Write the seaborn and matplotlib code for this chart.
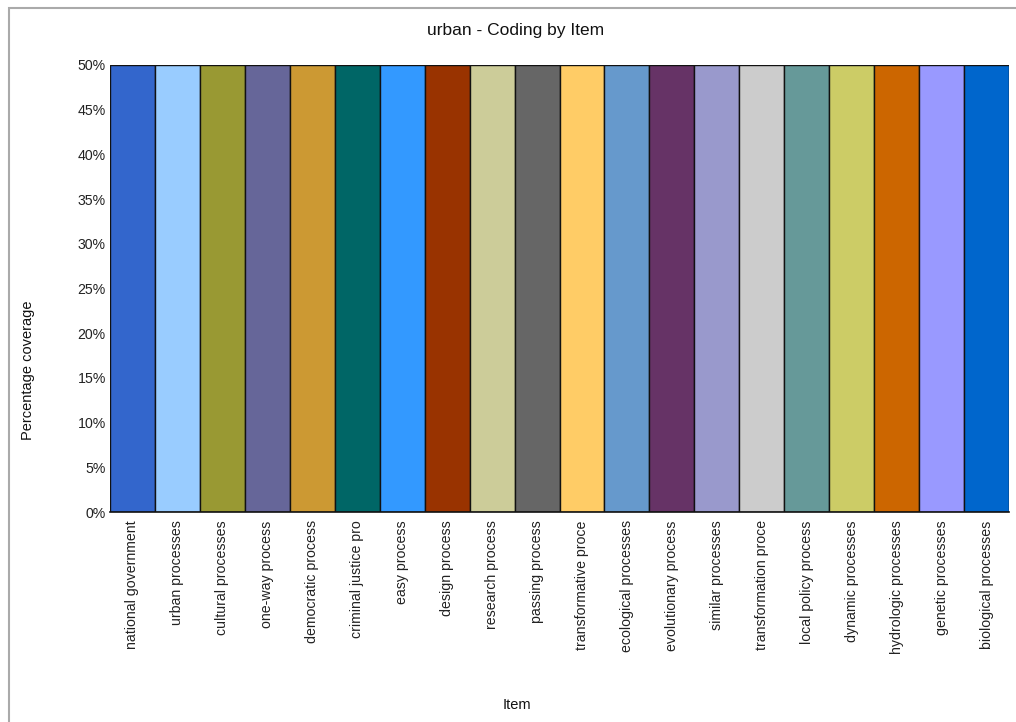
import matplotlib
matplotlib.use("Agg")
import matplotlib.pyplot as plt
import seaborn as sns
import pandas as pd
from matplotlib.patches import Rectangle
from matplotlib.ticker import FuncFormatter

items = [
    "national government", "urban processes", "cultural processes", "one-way process",
    "democratic process", "criminal justice pro", "easy process", "design process",
    "research process", "passing process", "transformative proce", "ecological processes",
    "evolutionary process", "similar processes", "transformation proce", "local policy process",
    "dynamic processes", "hydrologic processes", "genetic processes", "biological processes",
]
coverage = [50] * 20
colors = [
    "#3366CC", "#99CCFF", "#999933", "#666699", "#CC9933", "#006666", "#3399FF",
    "#993300", "#CCCC99", "#666666", "#FFCC66", "#6699CC", "#663366", "#9999CC",
    "#CCCCCC", "#669999", "#CCCC66", "#CC6600", "#9999FF", "#0066CC",
]

sns.set_style("white")
plt.rcParams["font.family"] = ["Liberation Sans", "DejaVu Sans"]

df = pd.DataFrame({"Item": items, "Coverage": coverage})

fig = plt.figure(figsize=(10.16, 7.22), dpi=100)
ax = fig.add_axes([110 / 1016, 1 - 512 / 722, (1009 - 110) / 1016, (512 - 65) / 722])

sns.barplot(data=df, x="Item", y="Coverage", hue="Item", palette=colors,
            legend=False, width=1.0, edgecolor="#111111", linewidth=1.0,
            saturation=1, ax=ax)

ax.set_xlim(-0.5, len(items) - 0.5)
ax.set_ylim(0, 50)
ax.set_yticks(range(0, 51, 5))
ax.yaxis.set_major_formatter(FuncFormatter(lambda v, p: f"{int(v)}%"))
ax.tick_params(axis="both", length=0, labelsize=10.2, colors="#222222", pad=6)
ax.tick_params(axis="y", pad=3)
ax.set_xticks(range(len(items)))
ax.set_xticklabels(items, rotation=90, va="top", ha="center")

for s in ["top", "right"]:
    ax.spines[s].set_visible(False)
ax.spines["left"].set_visible(False)
ax.spines["bottom"].set_color("#111111")
ax.spines["bottom"].set_linewidth(1.2)

ax.set_xlabel("")
ax.set_ylabel("")
fig.text(516 / 1016, 1 - 31 / 722, "urban - Coding by Item", ha="center", va="center",
         fontsize=12.5, color="#111111")
fig.text(28 / 1016, 1 - 370 / 722, "Percentage coverage", rotation=90, ha="center",
         va="center", fontsize=10.5, color="#111111")
fig.text(517 / 1016, 1 - 705 / 722, "Item", ha="center", va="center",
         fontsize=10.5, color="#111111")

# outer chart frame
fig.patches.append(Rectangle((8.5 / 1016, -0.1), 1.2, 1 - 7.5 / 722 + 0.1,
                             transform=fig.transFigure, fill=False,
                             edgecolor="#AAAAAA", linewidth=1.5))

fig.savefig("out.png", dpi=100)
